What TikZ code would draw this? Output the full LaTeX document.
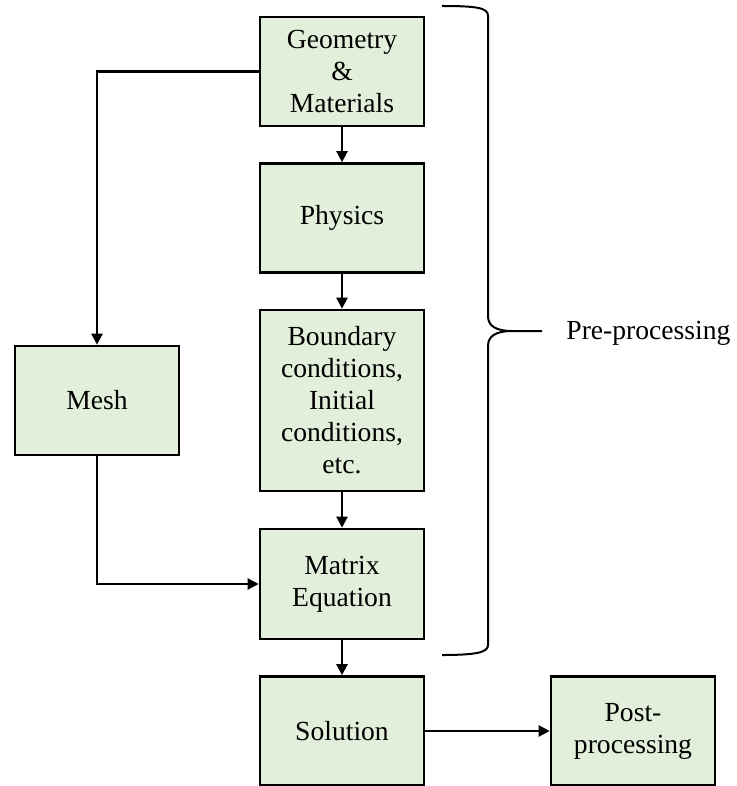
\documentclass[tikz,border=0pt]{standalone}
\usepackage{fontspec}
\setmainfont{Liberation Serif}
\usetikzlibrary{arrows.meta}
\definecolor{boxfill}{HTML}{E2EFDA}
\tikzset{
  box/.style={draw=black, line width=1.3pt, fill=boxfill, rectangle,
    minimum width=82pt, minimum height=54.5pt, align=center, inner sep=2pt,
    font=\fontsize{13.8}{16}\selectfont},
  arr/.style={line width=1.1pt, -{Triangle[length=5.5pt,width=5.5pt]}},
  brace/.style={line width=1pt}
}
\begin{document}
\begin{tikzpicture}[x=0.5pt,y=-0.5pt]
\useasboundingbox (0,0) rectangle (736,786);
\node[box] (geo) at (342,71.5) {Geometry\\\&\\Materials};
\node[box] (phys) at (342,218) {Physics};
\node[box, minimum height=90.5pt] (bc) at (342,400.5) {Boundary\\conditions,\\Initial\\conditions,\\etc.};
\node[box, minimum height=55pt] (mat) at (342,584) {Matrix\\Equation};
\node[box] (sol) at (342,731) {Solution};
\node[box] (post) at (633,731) {Post-\\processing};
\node[box] (mesh) at (97,400.5) {Mesh};
\draw[arr] (geo.west) -| (mesh.north);
\draw[arr] (mesh.south) |- (mat.west);
\draw[arr] (geo.south) -- (phys.north);
\draw[arr] (phys.south) -- (bc.north);
\draw[arr] (bc.south) -- (mat.north);
\draw[arr] (mat.south) -- (sol.north);
\draw[arr] (sol.east) -- (post.west);
\draw[brace] (442,6) .. controls (478,6) and (488,8) .. (488,16) -- (488,316)
  .. controls (488,326) and (496,331) .. (512,331) -- (542,331)
  (512,331) .. controls (496,331) and (488,336) .. (488,346) -- (488,645)
  .. controls (488,652) and (478,655) .. (442,655);
\node[anchor=west, inner sep=0pt, font=\fontsize{13.8}{16}\selectfont] (pre) at (566,333) {Pre-processing};
\end{tikzpicture}
\end{document}
